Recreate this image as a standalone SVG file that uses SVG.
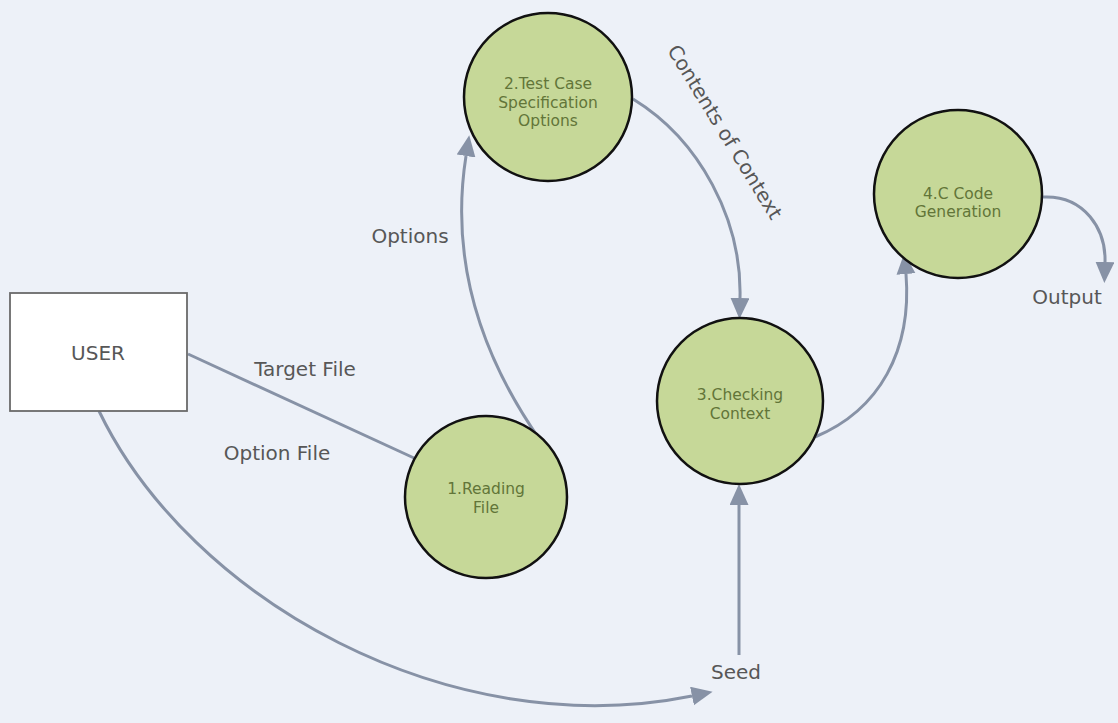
<svg xmlns="http://www.w3.org/2000/svg" width="1118" height="723" viewBox="0 0 1118 723">
  <style>
    .proc { fill: #c6d898; stroke: #111; stroke-width: 2.5; }
    .proc-text { font-family: "DejaVu Sans", Verdana, sans-serif; font-size: 15.5px; fill: #627538; text-anchor: middle; }
    .label { font-family: "DejaVu Sans", Verdana, sans-serif; font-size: 20px; fill: #575757; text-anchor: middle; }
    .flow { fill: none; stroke: #8792a6; stroke-width: 3; }
    .entity { fill: #ffffff; stroke: #6a6a6a; stroke-width: 1.8; }
  </style>
  <defs>
    <marker id="arrow" markerUnits="userSpaceOnUse" markerWidth="22" markerHeight="20" refX="0" refY="9.5" orient="auto">
      <path d="M0,0 L21,9.5 L0,19 z" fill="#8792a6"/>
    </marker>
  </defs>

  <rect width="1118" height="723" fill="#edf1f8"/>

  <!-- data flows -->
  <g id="connectors">
    <path class="flow" d="M188 354 L414 458"/>
    <path class="flow" d="M540 440 C 470 340, 452 245, 466 156" marker-end="url(#arrow)"/>
    <path class="flow" d="M633 99 C 700 140, 742 220, 740 298" marker-end="url(#arrow)"/>
    <path class="flow" d="M815 437 C 880 410, 912 350, 906 274" marker-end="url(#arrow)"/>
    <path class="flow" d="M1043 197 C 1085 195, 1106 230, 1105 262" marker-end="url(#arrow)"/>
    <path class="flow" d="M739 655 L739 505" marker-end="url(#arrow)"/>
    <path class="flow" d="M99 411 C 190 600, 450 745, 692 696" marker-end="url(#arrow)"/>

    <text class="label" x="305" y="376">Target File</text>
    <text class="label" x="277" y="460">Option File</text>
    <text class="label" x="410" y="243">Options</text>
    <text class="label" transform="translate(725,132) rotate(58.5)" x="0" y="7">Contents of Context</text>
    <text class="label" x="736" y="679">Seed</text>
    <text class="label" x="1067" y="304">Output</text>
  </g>

  <g id="user">
    <rect class="entity" x="10" y="293" width="177" height="118"/>
    <text class="label" x="98" y="360">USER</text>
  </g>

  <g id="reading-file">
    <circle class="proc" cx="486" cy="497" r="81"/>
    <text class="proc-text" x="486" y="494">1.Reading</text>
    <text class="proc-text" x="486" y="513">File</text>
  </g>

  <g id="test-case-spec">
    <circle class="proc" cx="548" cy="97" r="84"/>
    <text class="proc-text" x="548" y="89">2.Test Case</text>
    <text class="proc-text" x="548" y="108">Specification</text>
    <text class="proc-text" x="548" y="126">Options</text>
  </g>

  <g id="checking-context">
    <circle class="proc" cx="740" cy="401" r="83"/>
    <text class="proc-text" x="740" y="400">3.Checking</text>
    <text class="proc-text" x="740" y="419">Context</text>
  </g>

  <g id="code-generation">
    <circle class="proc" cx="958" cy="194" r="84"/>
    <text class="proc-text" x="958" y="199">4.C Code</text>
    <text class="proc-text" x="958" y="217">Generation</text>
  </g>
</svg>
